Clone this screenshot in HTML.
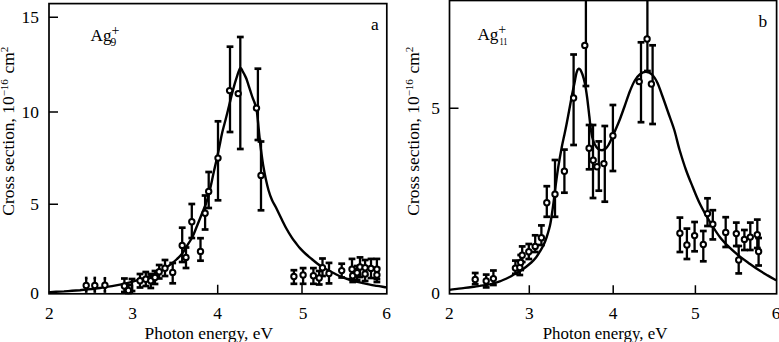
<!DOCTYPE html>
<html><head><meta charset="utf-8"><style>
html,body{margin:0;padding:0;background:#fff;width:779px;height:342px;overflow:hidden}
svg{display:block}
text{font-family:"Liberation Serif",serif}
.c{stroke-width:2.7}
</style></head><body>
<svg width="779" height="342" viewBox="0 0 779 342">
<rect x="0" y="0" width="779" height="342" fill="#fff"/>
<g fill="none" stroke="#000" stroke-linecap="butt">
 <!-- left frame -->
 <rect x="49.0" y="3.6" width="337.8" height="290.2" stroke-width="1.7"/>
 <!-- left ticks -->
 <path stroke-width="1.5" d="M49.0,17.3h9 M49.0,112h9 M49.0,204.3h9 M132.5,293.8v-9 M217.7,293.8v-9 M302,293.8v-9"/>
 <!-- right frame -->
 <rect x="449.5" y="0.5" width="327.1" height="293.3" stroke-width="1.7"/>
 <path stroke-width="1.5" d="M449.5,108.3h9 M529.3,293.8v-8.5 M613.2,293.8v-8.5 M695.4,293.8v-8.5"/>
 <!-- curves -->
 <path stroke-width="2.4" d="M48.7,292.1 C49.9,292.1 53.5,291.9 56.0,291.8 C58.5,291.7 61.3,291.5 64.0,291.4 C66.7,291.2 69.3,291.0 72.0,290.8 C74.7,290.6 77.3,290.4 80.0,290.2 C82.7,289.9 85.3,289.7 88.0,289.4 C90.7,289.1 93.3,288.8 96.0,288.5 C98.7,288.1 101.3,287.8 104.0,287.4 C106.7,287.0 109.3,286.6 112.0,286.1 C114.7,285.6 117.3,285.1 120.0,284.6 C122.7,284.1 125.3,283.5 128.0,282.8 C130.7,282.2 133.3,281.5 136.0,280.7 C138.7,280.0 141.3,279.1 144.0,278.2 C146.7,277.3 149.3,276.3 152.0,275.1 C154.7,274.0 157.7,272.5 160.0,271.3 C162.3,270.0 164.0,269.0 166.0,267.7 C168.0,266.4 170.2,264.8 172.0,263.4 C173.8,261.9 175.3,260.6 177.0,259.0 C178.7,257.5 180.3,256.0 182.0,253.8 C183.7,251.6 185.5,248.2 187.0,245.8 C188.5,243.4 189.8,241.6 191.0,239.5 C192.2,237.4 193.0,235.8 194.0,233.5 C195.0,231.2 196.0,228.5 197.0,226.0 C198.0,223.5 199.0,221.0 200.0,218.5 C201.0,216.0 202.0,213.5 203.0,211.0 C204.0,208.5 205.1,206.1 206.0,203.5 C206.9,200.9 207.7,198.6 208.5,195.5 C209.3,192.4 210.1,189.1 211.0,185.0 C211.9,180.9 212.9,175.8 214.0,171.0 C215.1,166.2 216.4,160.7 217.3,156.5 C218.2,152.3 218.7,149.8 219.5,146.0 C220.3,142.2 221.0,137.8 222.0,133.5 C223.0,129.2 224.3,124.6 225.5,120.0 C226.7,115.4 227.9,110.4 229.0,106.0 C230.1,101.6 231.2,96.9 232.1,93.5 C233.0,90.1 233.5,88.2 234.2,85.6 C234.9,83.0 235.8,80.2 236.5,78.0 C237.2,75.8 237.8,73.8 238.4,72.2 C239.0,70.6 239.7,68.8 240.1,68.2 C240.5,67.6 240.6,68.0 241.0,68.4 C241.4,68.8 241.8,69.8 242.4,70.8 C243.0,71.8 243.6,72.9 244.3,74.3 C245.0,75.7 245.8,77.0 246.5,79.0 C247.2,81.0 247.9,83.3 248.8,86.1 C249.7,88.9 251.1,93.3 252.0,96.0 C252.9,98.7 253.8,100.4 254.5,102.5 C255.2,104.6 255.8,105.5 256.4,108.5 C257.0,111.5 257.4,115.9 257.9,120.5 C258.4,125.1 258.8,130.8 259.4,136.0 C259.9,141.2 260.5,146.5 261.2,151.5 C261.9,156.5 262.5,161.4 263.3,166.0 C264.1,170.6 264.9,174.9 265.8,179.0 C266.7,183.1 267.6,187.0 268.6,190.5 C269.6,194.0 270.8,197.2 272.0,200.0 C273.2,202.8 274.4,204.2 276.0,207.5 C277.6,210.8 280.1,215.9 281.8,219.5 C283.6,223.1 284.9,225.8 286.5,228.8 C288.1,231.8 290.1,234.9 291.7,237.3 C293.2,239.7 294.4,241.2 295.8,243.0 C297.2,244.8 298.2,246.3 299.9,248.1 C301.6,249.9 303.8,252.2 305.8,254.0 C307.8,255.8 309.8,257.4 311.7,259.0 C313.6,260.6 315.8,262.4 317.5,263.7 C319.2,265.0 320.4,265.9 322.2,267.0 C323.9,268.1 325.9,269.2 328.0,270.3 C330.1,271.4 332.7,272.6 335.0,273.8 C337.3,275.0 339.7,276.3 342.0,277.2 C344.3,278.2 346.7,278.8 349.0,279.5 C351.3,280.2 353.7,280.9 356.0,281.5 C358.3,282.1 360.7,282.6 363.0,283.1 C365.3,283.7 367.7,284.2 370.0,284.6 C372.3,285.1 374.2,285.4 377.0,285.9 C379.8,286.4 384.9,287.1 386.5,287.4"/>
 <path stroke-width="2.4" d="M449.3,289.9 C450.6,289.7 454.4,289.2 457.0,288.9 C459.6,288.6 462.4,288.2 464.9,287.9 C467.4,287.6 469.5,287.3 472.0,287.0 C474.5,286.7 476.9,286.3 479.8,285.9 C482.8,285.4 486.4,285.1 489.7,284.3 C493.0,283.6 496.4,282.6 499.7,281.4 C503.0,280.2 507.1,278.2 509.6,277.0 C512.1,275.8 512.5,275.2 514.6,274.0 C516.8,272.8 519.7,271.4 522.5,269.5 C525.3,267.6 529.0,264.5 531.3,262.5 C533.5,260.5 534.5,259.4 536.0,257.5 C537.5,255.6 538.8,253.4 540.1,251.2 C541.4,249.0 542.7,246.9 543.8,244.5 C544.9,242.1 545.9,239.4 546.7,237.0 C547.5,234.6 548.2,232.3 548.8,230.0 C549.4,227.7 549.9,226.3 550.5,223.0 C551.1,219.7 551.8,214.7 552.5,210.0 C553.2,205.3 553.9,200.0 554.5,195.0 C555.1,190.0 555.7,184.9 556.4,180.0 C557.1,175.1 557.6,170.9 558.5,165.5 C559.4,160.1 560.8,152.3 561.7,147.5 C562.6,142.7 563.2,140.2 564.0,136.5 C564.8,132.8 565.5,129.7 566.4,125.0 C567.3,120.3 568.6,113.5 569.5,108.5 C570.4,103.5 571.2,99.1 572.0,95.0 C572.8,90.9 573.6,87.3 574.3,84.0 C575.0,80.7 575.5,77.3 576.0,75.0 C576.5,72.7 577.0,71.1 577.5,70.0 C578.0,68.9 578.3,68.7 578.8,68.6 C579.3,68.5 579.7,68.6 580.3,69.6 C580.9,70.6 581.7,72.2 582.5,74.5 C583.3,76.8 584.1,79.5 584.9,83.4 C585.7,87.3 586.5,92.6 587.2,98.0 C587.9,103.4 588.7,111.1 589.3,116.0 C589.9,120.9 590.1,124.0 590.6,127.5 C591.1,131.0 591.5,134.2 592.2,137.0 C592.9,139.8 593.6,142.0 594.6,144.0 C595.6,146.0 596.8,147.8 598.0,148.8 C599.2,149.8 600.8,150.2 602.0,150.2 C603.2,150.2 604.4,149.7 605.5,148.8 C606.6,147.9 607.6,146.5 608.5,145.0 C609.4,143.5 610.2,141.7 611.0,140.0 C611.8,138.3 612.4,136.7 613.1,135.0 C613.9,133.3 614.4,132.5 615.5,129.8 C616.6,127.1 618.5,123.0 620.0,119.0 C621.5,115.0 623.0,110.7 624.7,106.0 C626.4,101.3 628.3,95.2 630.0,91.0 C631.7,86.8 633.1,83.3 634.8,80.5 C636.5,77.7 638.1,75.7 640.0,74.2 C641.9,72.8 643.9,71.7 646.0,71.8 C648.1,71.9 650.6,73.1 652.5,75.0 C654.4,76.9 655.9,79.7 657.5,83.0 C659.1,86.3 660.2,90.2 662.0,95.0 C663.8,99.8 666.0,106.2 668.0,112.0 C670.0,117.8 672.4,123.7 674.3,130.0 C676.2,136.3 677.6,143.3 679.6,150.0 C681.6,156.7 683.8,163.8 686.0,170.0 C688.2,176.2 690.4,181.3 692.7,187.0 C695.0,192.7 697.1,198.1 700.0,204.0 C702.9,209.9 707.0,217.0 710.3,222.5 C713.6,228.0 716.7,232.9 720.0,237.2 C723.3,241.5 726.9,245.0 730.2,248.2 C733.5,251.4 736.7,254.0 740.0,256.6 C743.3,259.2 746.7,261.6 750.0,264.0 C753.3,266.4 757.0,268.9 760.0,270.8 C763.0,272.7 765.3,274.0 768.0,275.6 C770.7,277.2 774.9,279.5 776.3,280.3"/>
 <!-- error bars -->
 <g stroke-width="2.3">
<path d="M86.2,278.0V291.5"/>
<path class="c" d="M84.9,278.0H87.5"/>
<path class="c" d="M84.9,291.5H87.5"/>
<path d="M94.8,278.0V291.5"/>
<path class="c" d="M93.5,278.0H96.1"/>
<path class="c" d="M93.5,291.5H96.1"/>
<path d="M104.9,278.3V291.5"/>
<path class="c" d="M103.6,278.3H106.2"/>
<path class="c" d="M103.6,291.5H106.2"/>
<path d="M124.4,278.5V292.0"/>
<path class="c" d="M121.0,278.5H127.8"/>
<path class="c" d="M121.0,292.0H127.8"/>
<path d="M128.4,285.0V293.0"/>
<path class="c" d="M125.0,285.0H131.8"/>
<path class="c" d="M125.0,293.0H131.8"/>
<path d="M140.0,274.0V287.5"/>
<path class="c" d="M136.6,274.0H143.4"/>
<path class="c" d="M136.6,287.5H143.4"/>
<path d="M145.8,272.0V286.0"/>
<path class="c" d="M142.4,272.0H149.2"/>
<path class="c" d="M142.4,286.0H149.2"/>
<path d="M150.8,274.0V288.0"/>
<path class="c" d="M147.4,274.0H154.2"/>
<path class="c" d="M147.4,288.0H154.2"/>
<path d="M155.0,271.0V284.0"/>
<path class="c" d="M151.6,271.0H158.4"/>
<path class="c" d="M151.6,284.0H158.4"/>
<path d="M159.2,265.0V278.5"/>
<path class="c" d="M155.8,265.0H162.6"/>
<path class="c" d="M155.8,278.5H162.6"/>
<path d="M165.0,260.0V276.0"/>
<path class="c" d="M161.6,260.0H168.4"/>
<path class="c" d="M161.6,276.0H168.4"/>
<path d="M172.7,263.0V283.3"/>
<path class="c" d="M169.3,263.0H176.1"/>
<path class="c" d="M169.3,283.3H176.1"/>
<path d="M182.2,227.7V262.0"/>
<path class="c" d="M178.8,227.7H185.6"/>
<path class="c" d="M178.8,262.0H185.6"/>
<path d="M186.0,247.5V268.0"/>
<path class="c" d="M182.6,247.5H189.4"/>
<path class="c" d="M182.6,268.0H189.4"/>
<path d="M191.8,204.0V238.0"/>
<path class="c" d="M188.4,204.0H195.2"/>
<path class="c" d="M188.4,238.0H195.2"/>
<path d="M200.5,238.2V260.7"/>
<path class="c" d="M197.1,238.2H203.9"/>
<path class="c" d="M197.1,260.7H203.9"/>
<path d="M205.1,195.5V229.5"/>
<path class="c" d="M201.7,195.5H208.5"/>
<path class="c" d="M201.7,229.5H208.5"/>
<path d="M208.7,172.0V208.0"/>
<path class="c" d="M205.3,172.0H212.1"/>
<path class="c" d="M205.3,208.0H212.1"/>
<path d="M218.0,121.3V200.3"/>
<path class="c" d="M214.6,121.3H221.4"/>
<path class="c" d="M214.6,200.3H221.4"/>
<path d="M230.0,46.7V132.0"/>
<path class="c" d="M226.6,46.7H233.4"/>
<path class="c" d="M226.6,132.0H233.4"/>
<path d="M240.3,37.0V149.0"/>
<path class="c" d="M236.9,37.0H243.7"/>
<path class="c" d="M236.9,149.0H243.7"/>
<path d="M257.9,68.7V140.0"/>
<path class="c" d="M254.5,68.7H261.3"/>
<path class="c" d="M254.5,140.0H261.3"/>
<path d="M261.0,141.5V210.3"/>
<path class="c" d="M257.6,141.5H264.4"/>
<path class="c" d="M257.6,210.3H264.4"/>
<path d="M293.9,270.2V283.8"/>
<path class="c" d="M290.5,270.2H297.3"/>
<path class="c" d="M290.5,283.8H297.3"/>
<path d="M303.1,268.1V283.8"/>
<path class="c" d="M299.7,268.1H306.5"/>
<path class="c" d="M299.7,283.8H306.5"/>
<path d="M313.4,268.1V283.8"/>
<path class="c" d="M310.0,268.1H316.8"/>
<path class="c" d="M310.0,283.8H316.8"/>
<path d="M319.2,271.0V284.5"/>
<path class="c" d="M315.8,271.0H322.6"/>
<path class="c" d="M315.8,284.5H322.6"/>
<path d="M322.5,258.5V276.0"/>
<path class="c" d="M319.1,258.5H325.9"/>
<path class="c" d="M319.1,276.0H325.9"/>
<path d="M329.0,262.9V283.4"/>
<path class="c" d="M325.6,262.9H332.4"/>
<path class="c" d="M325.6,283.4H332.4"/>
<path d="M341.7,263.7V277.5"/>
<path class="c" d="M338.3,263.7H345.1"/>
<path class="c" d="M338.3,277.5H345.1"/>
<path d="M352.0,258.9V279.0"/>
<path class="c" d="M348.6,258.9H355.4"/>
<path class="c" d="M348.6,279.0H355.4"/>
<path d="M352.7,269.0V282.0"/>
<path class="c" d="M349.3,269.0H356.1"/>
<path class="c" d="M349.3,282.0H356.1"/>
<path d="M357.1,266.0V280.0"/>
<path class="c" d="M353.7,266.0H360.5"/>
<path class="c" d="M353.7,280.0H360.5"/>
<path d="M360.0,257.4V277.0"/>
<path class="c" d="M356.6,257.4H363.4"/>
<path class="c" d="M356.6,277.0H363.4"/>
<path d="M365.1,260.0V275.0"/>
<path class="c" d="M361.7,260.0H368.5"/>
<path class="c" d="M361.7,275.0H368.5"/>
<path d="M365.1,267.0V281.0"/>
<path class="c" d="M361.7,267.0H368.5"/>
<path class="c" d="M361.7,281.0H368.5"/>
<path d="M371.0,258.9V278.0"/>
<path class="c" d="M367.6,258.9H374.4"/>
<path class="c" d="M367.6,278.0H374.4"/>
<path d="M376.9,258.9V279.0"/>
<path class="c" d="M373.5,258.9H380.3"/>
<path class="c" d="M373.5,279.0H380.3"/>
<path d="M376.9,268.0V282.0"/>
<path class="c" d="M373.5,268.0H380.3"/>
<path class="c" d="M373.5,282.0H380.3"/>
<path d="M132.0,279.0V291.0"/>
<path class="c" d="M128.6,279.0H135.4"/>
<path class="c" d="M128.6,291.0H135.4"/>
<path d="M475.2,273.0V284.2"/>
<path class="c" d="M471.8,273.0H478.6"/>
<path class="c" d="M471.8,284.2H478.6"/>
<path d="M486.2,274.6V287.4"/>
<path class="c" d="M482.8,274.6H489.6"/>
<path class="c" d="M482.8,287.4H489.6"/>
<path d="M493.4,270.5V285.0"/>
<path class="c" d="M490.0,270.5H496.8"/>
<path class="c" d="M490.0,285.0H496.8"/>
<path d="M515.4,260.6V273.8"/>
<path class="c" d="M512.0,260.6H518.8"/>
<path class="c" d="M512.0,273.8H518.8"/>
<path d="M519.8,261.0V275.0"/>
<path class="c" d="M516.4,261.0H523.2"/>
<path class="c" d="M516.4,275.0H523.2"/>
<path d="M520.7,255.0V270.0"/>
<path class="c" d="M517.3,255.0H524.1"/>
<path class="c" d="M517.3,270.0H524.1"/>
<path d="M522.2,246.4V262.0"/>
<path class="c" d="M518.8,246.4H525.6"/>
<path class="c" d="M518.8,262.0H525.6"/>
<path d="M528.8,244.0V259.0"/>
<path class="c" d="M525.4,244.0H532.2"/>
<path class="c" d="M525.4,259.0H532.2"/>
<path d="M535.2,235.3V252.0"/>
<path class="c" d="M531.8,235.3H538.6"/>
<path class="c" d="M531.8,252.0H538.6"/>
<path d="M541.4,225.4V245.0"/>
<path class="c" d="M538.0,225.4H544.8"/>
<path class="c" d="M538.0,245.0H544.8"/>
<path d="M546.8,186.2V216.8"/>
<path class="c" d="M543.4,186.2H550.2"/>
<path class="c" d="M543.4,216.8H550.2"/>
<path d="M555.0,160.0V216.8"/>
<path class="c" d="M551.6,160.0H558.4"/>
<path class="c" d="M551.6,216.8H558.4"/>
<path d="M564.4,149.6V192.7"/>
<path class="c" d="M561.0,149.6H567.8"/>
<path class="c" d="M561.0,192.7H567.8"/>
<path d="M573.6,54.5V145.0"/>
<path class="c" d="M570.2,54.5H577.0"/>
<path class="c" d="M570.2,145.0H577.0"/>
<path d="M585.9,0.5V86.0"/>
<path class="c" d="M582.5,86.0H589.3"/>
<path d="M589.1,125.0V169.3"/>
<path class="c" d="M585.7,125.0H592.5"/>
<path class="c" d="M585.7,169.3H592.5"/>
<path d="M593.0,125.0V198.0"/>
<path class="c" d="M589.6,125.0H596.4"/>
<path class="c" d="M589.6,198.0H596.4"/>
<path d="M598.8,141.4V190.7"/>
<path class="c" d="M595.4,141.4H602.2"/>
<path class="c" d="M595.4,190.7H602.2"/>
<path d="M604.8,126.0V201.7"/>
<path class="c" d="M601.4,126.0H608.2"/>
<path class="c" d="M601.4,201.7H608.2"/>
<path d="M612.9,105.0V171.0"/>
<path class="c" d="M609.5,105.0H616.3"/>
<path class="c" d="M609.5,171.0H616.3"/>
<path d="M647.4,0.5V71.0"/>
<path class="c" d="M644.0,71.0H650.8"/>
<path d="M641.0,42.3V122.2"/>
<path class="c" d="M637.6,42.3H644.4"/>
<path class="c" d="M637.6,122.2H644.4"/>
<path d="M652.6,45.3V124.0"/>
<path class="c" d="M649.2,45.3H656.0"/>
<path class="c" d="M649.2,124.0H656.0"/>
<path d="M679.9,217.6V252.0"/>
<path class="c" d="M676.5,217.6H683.3"/>
<path class="c" d="M676.5,252.0H683.3"/>
<path d="M686.9,228.6V259.0"/>
<path class="c" d="M683.5,228.6H690.3"/>
<path class="c" d="M683.5,259.0H690.3"/>
<path d="M694.6,222.0V251.3"/>
<path class="c" d="M691.2,222.0H698.0"/>
<path class="c" d="M691.2,251.3H698.0"/>
<path d="M703.3,231.0V261.3"/>
<path class="c" d="M699.9,231.0H706.7"/>
<path class="c" d="M699.9,261.3H706.7"/>
<path d="M707.5,198.3V226.0"/>
<path class="c" d="M704.1,198.3H710.9"/>
<path class="c" d="M704.1,226.0H710.9"/>
<path d="M712.8,210.2V239.4"/>
<path class="c" d="M709.4,210.2H716.2"/>
<path class="c" d="M709.4,239.4H716.2"/>
<path d="M725.7,217.2V247.0"/>
<path class="c" d="M722.3,217.2H729.1"/>
<path class="c" d="M722.3,247.0H729.1"/>
<path d="M736.3,222.6V246.0"/>
<path class="c" d="M732.9,222.6H739.7"/>
<path class="c" d="M732.9,246.0H739.7"/>
<path d="M738.7,246.0V273.4"/>
<path class="c" d="M735.3,246.0H742.1"/>
<path class="c" d="M735.3,273.4H742.1"/>
<path d="M744.4,230.0V250.0"/>
<path class="c" d="M741.0,230.0H747.8"/>
<path class="c" d="M741.0,250.0H747.8"/>
<path d="M750.3,222.6V250.0"/>
<path class="c" d="M746.9,222.6H753.7"/>
<path class="c" d="M746.9,250.0H753.7"/>
<path d="M757.3,219.6V248.0"/>
<path class="c" d="M753.9,219.6H760.7"/>
<path class="c" d="M753.9,248.0H760.7"/>
<path d="M758.6,238.0V265.5"/>
<path class="c" d="M755.2,238.0H762.0"/>
<path class="c" d="M755.2,265.5H762.0"/>
 </g>
</g>
<g fill="#fff" stroke="#000" stroke-width="2.0">
<circle cx="86.2" cy="285.5" r="2.7"/>
<circle cx="94.8" cy="285.5" r="2.7"/>
<circle cx="104.9" cy="285.3" r="2.7"/>
<circle cx="124.4" cy="286.0" r="2.7"/>
<circle cx="128.4" cy="290.5" r="2.7"/>
<circle cx="140.0" cy="280.8" r="2.7"/>
<circle cx="145.8" cy="279.2" r="2.7"/>
<circle cx="150.8" cy="280.8" r="2.7"/>
<circle cx="155.0" cy="277.5" r="2.7"/>
<circle cx="159.2" cy="271.7" r="2.7"/>
<circle cx="165.0" cy="268.3" r="2.7"/>
<circle cx="172.7" cy="272.4" r="2.7"/>
<circle cx="182.2" cy="245.4" r="2.7"/>
<circle cx="186.0" cy="257.4" r="2.7"/>
<circle cx="191.8" cy="221.8" r="2.7"/>
<circle cx="200.5" cy="251.4" r="2.7"/>
<circle cx="205.1" cy="213.3" r="2.7"/>
<circle cx="208.7" cy="191.4" r="2.7"/>
<circle cx="218.0" cy="158.1" r="2.7"/>
<circle cx="229.6" cy="90.6" r="2.7"/>
<circle cx="238.2" cy="93.6" r="2.7"/>
<circle cx="256.5" cy="108.1" r="2.7"/>
<circle cx="261.0" cy="175.4" r="2.7"/>
<circle cx="293.9" cy="276.5" r="2.7"/>
<circle cx="303.1" cy="275.0" r="2.7"/>
<circle cx="313.4" cy="275.7" r="2.7"/>
<circle cx="319.2" cy="278.0" r="2.7"/>
<circle cx="322.5" cy="267.7" r="2.7"/>
<circle cx="329.0" cy="273.5" r="2.7"/>
<circle cx="341.7" cy="270.6" r="2.7"/>
<circle cx="352.0" cy="269.2" r="2.7"/>
<circle cx="352.7" cy="275.7" r="2.7"/>
<circle cx="357.1" cy="272.8" r="2.7"/>
<circle cx="360.0" cy="267.0" r="2.7"/>
<circle cx="365.1" cy="267.7" r="2.7"/>
<circle cx="365.1" cy="274.0" r="2.7"/>
<circle cx="371.0" cy="268.4" r="2.7"/>
<circle cx="376.9" cy="269.2" r="2.7"/>
<circle cx="376.9" cy="275.0" r="2.7"/>
<circle cx="475.2" cy="279.5" r="2.7"/>
<circle cx="486.2" cy="281.0" r="2.7"/>
<circle cx="493.4" cy="278.6" r="2.7"/>
<circle cx="515.4" cy="268.1" r="2.7"/>
<circle cx="519.8" cy="267.5" r="2.7"/>
<circle cx="520.7" cy="262.5" r="2.7"/>
<circle cx="522.2" cy="255.3" r="2.7"/>
<circle cx="528.8" cy="251.8" r="2.7"/>
<circle cx="535.2" cy="246.4" r="2.7"/>
<circle cx="541.4" cy="237.7" r="2.7"/>
<circle cx="546.8" cy="202.7" r="2.7"/>
<circle cx="555.0" cy="194.2" r="2.7"/>
<circle cx="564.4" cy="171.2" r="2.7"/>
<circle cx="573.6" cy="98.0" r="2.7"/>
<circle cx="584.8" cy="45.4" r="2.7"/>
<circle cx="589.1" cy="148.3" r="2.7"/>
<circle cx="593.2" cy="160.2" r="2.7"/>
<circle cx="597.0" cy="166.7" r="2.7"/>
<circle cx="603.9" cy="163.6" r="2.7"/>
<circle cx="612.9" cy="135.8" r="2.7"/>
<circle cx="647.1" cy="39.0" r="2.7"/>
<circle cx="639.2" cy="81.6" r="2.7"/>
<circle cx="651.4" cy="84.0" r="2.7"/>
<circle cx="679.9" cy="233.3" r="2.7"/>
<circle cx="686.9" cy="245.0" r="2.7"/>
<circle cx="694.6" cy="235.6" r="2.7"/>
<circle cx="703.3" cy="244.5" r="2.7"/>
<circle cx="707.5" cy="213.6" r="2.7"/>
<circle cx="712.8" cy="224.2" r="2.7"/>
<circle cx="725.7" cy="232.4" r="2.7"/>
<circle cx="736.3" cy="233.6" r="2.7"/>
<circle cx="738.7" cy="260.0" r="2.7"/>
<circle cx="744.4" cy="239.4" r="2.7"/>
<circle cx="750.3" cy="237.1" r="2.7"/>
<circle cx="757.3" cy="234.8" r="2.7"/>
<circle cx="758.6" cy="251.5" r="2.7"/>
</g>
<g font-family="Liberation Serif, serif" font-size="17.4" fill="#000">
 <!-- left y tick labels -->
 <text x="39" y="22.8" text-anchor="end">15</text>
 <text x="39" y="117.5" text-anchor="end">10</text>
 <text x="39" y="209.5" text-anchor="end">5</text>
 <text x="39" y="298.5" text-anchor="end">0</text>
 <!-- left x tick labels -->
 <text x="49.4" y="318.5" text-anchor="middle">2</text>
 <text x="132.5" y="318.5" text-anchor="middle">3</text>
 <text x="217.7" y="318.5" text-anchor="middle">4</text>
 <text x="303" y="318.5" text-anchor="middle">5</text>
 <text x="386.7" y="318.5" text-anchor="middle">6</text>
 <text x="144.6" y="338.7" >Photon energy, eV</text>
 <text transform="translate(14.3,215.7) rotate(-90)">Cross section, 10<tspan dy="-6" font-size="11">&#8722;16</tspan><tspan dy="6" dx="1.3"> cm</tspan><tspan dy="-6" font-size="11">2</tspan></text>
 <text x="90.6" y="40.6" font-size="17.2">Ag</text>
 <text x="110.4" y="46.2" font-size="11.5">9</text>
 <text x="111.6" y="35.4" font-size="14">+</text>
 <text x="371" y="29.6">a</text>

 <!-- right y tick labels -->
 <text x="440" y="113.5" text-anchor="end">5</text>
 <text x="440" y="298.5" text-anchor="end">0</text>
 <text x="449.3" y="318.5" text-anchor="middle">2</text>
 <text x="529.3" y="318.5" text-anchor="middle">3</text>
 <text x="613.2" y="318.5" text-anchor="middle">4</text>
 <text x="695.4" y="318.5" text-anchor="middle">5</text>
 <text x="776" y="318.5" text-anchor="middle">6</text>
 <text transform="translate(542.7,338.8) scale(0.972,1)">Photon energy, eV</text>
 <text transform="translate(418.5,215.7) rotate(-90)">Cross section, 10<tspan dy="-6" font-size="11">&#8722;16</tspan><tspan dy="6" dx="1.3"> cm</tspan><tspan dy="-6" font-size="11">2</tspan></text>
 <text x="477.4" y="39.7" font-size="17.2">Ag</text>
 <text x="499.4" y="44.6" font-size="11" textLength="8" lengthAdjust="spacingAndGlyphs">11</text>
 <text x="498.2" y="33.9" font-size="14">+</text>
 <text x="758.6" y="27.1">b</text>
</g>
</svg>
</body></html>
